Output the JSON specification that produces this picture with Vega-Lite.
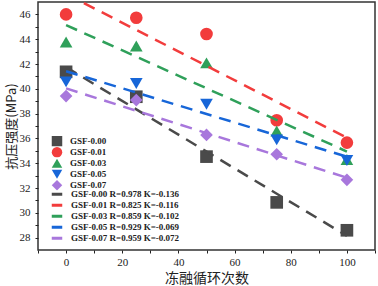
{
  "$schema": "https://vega.github.io/schema/vega-lite/v6.json",
  "autosize": "none",
  "padding": {"left": 38, "top": 2, "right": 3, "bottom": 36},
  "width": 337,
  "height": 248,
  "background": "white",
  "config": {
    "view": {"stroke": "#333333", "strokeWidth": 1.5},
    "legend": {
      "labelFont": "Liberation Serif",
      "labelFontSize": 9,
      "labelFontWeight": "bold",
      "labelColor": "#222222",
      "padding": 0,
      "rowPadding": 0,
      "clipHeight": 10.6,
      "labelOffset": 7
    }
  },
  "encoding": {
    "x": {
      "field": "x", "type": "quantitative",
      "scale": {"domain": [-10, 110], "nice": false, "zero": false},
      "axis": {
        "title": "冻融循环次数",
        "titleFont": "Noto Sans CJK SC",
        "titleFontWeight": "normal",
        "titleColor": "#222222",
        "titleFontSize": 14,
        "titlePadding": 4,
        "values": [-10, 0, 10, 20, 30, 40, 50, 60, 70, 80, 90, 100, 110],
        "labelExpr": "datum.value % 20 === 0 ? datum.label : ''",
        "labelFont": "Liberation Serif",
        "labelFontSize": 11,
        "labelColor": "#222222",
        "labelOverlap": false,
        "labelPadding": 3,
        "domain": false,
        "grid": false,
        "ticks": true,
        "tickColor": "#222222",
        "tickWidth": 1,
        "tickSize": 3
      }
    },
    "y": {
      "field": "y", "type": "quantitative",
      "scale": {"domain": [27, 47], "nice": false, "zero": false},
      "axis": {
        "title": "抗压强度(MPa)",
        "titleFont": "Noto Sans CJK SC",
        "titleFontWeight": "normal",
        "titleColor": "#222222",
        "titleFontSize": 13,
        "titlePadding": 1,
        "values": [28, 29, 30, 31, 32, 33, 34, 35, 36, 37, 38, 39, 40, 41, 42, 43, 44, 45, 46],
        "labelExpr": "datum.value % 2 === 0 ? datum.label : ''",
        "labelFont": "Liberation Serif",
        "labelFontSize": 11,
        "labelColor": "#222222",
        "labelOverlap": false,
        "labelPadding": 5,
        "domain": false,
        "grid": false,
        "ticks": true,
        "tickColor": "#222222",
        "tickWidth": 1,
        "tickSize": 3
      }
    }
  },
  "layer": [
    {
      "data": {"values": [
        {"series": "GSF-0.00", "x": 0, "y": 41.37},
        {"series": "GSF-0.00", "x": 25, "y": 39.36},
        {"series": "GSF-0.00", "x": 50, "y": 34.53},
        {"series": "GSF-0.00", "x": 75, "y": 30.84},
        {"series": "GSF-0.00", "x": 100, "y": 28.59},
        {"series": "GSF-0.01", "x": 0, "y": 46.0},
        {"series": "GSF-0.01", "x": 25, "y": 45.73},
        {"series": "GSF-0.01", "x": 50, "y": 44.42},
        {"series": "GSF-0.01", "x": 75, "y": 37.46},
        {"series": "GSF-0.01", "x": 100, "y": 35.66},
        {"series": "GSF-0.03", "x": 0, "y": 43.78},
        {"series": "GSF-0.03", "x": 25, "y": 43.45},
        {"series": "GSF-0.03", "x": 50, "y": 42.09},
        {"series": "GSF-0.03", "x": 75, "y": 36.6},
        {"series": "GSF-0.03", "x": 100, "y": 34.3},
        {"series": "GSF-0.05", "x": 0, "y": 40.56},
        {"series": "GSF-0.05", "x": 25, "y": 40.43},
        {"series": "GSF-0.05", "x": 50, "y": 38.75},
        {"series": "GSF-0.05", "x": 75, "y": 35.88},
        {"series": "GSF-0.05", "x": 100, "y": 34.21},
        {"series": "GSF-0.07", "x": 0, "y": 39.41},
        {"series": "GSF-0.07", "x": 25, "y": 39.09},
        {"series": "GSF-0.07", "x": 50, "y": 36.28},
        {"series": "GSF-0.07", "x": 75, "y": 34.72},
        {"series": "GSF-0.07", "x": 100, "y": 32.66}
      ]},
      "mark": {"type": "point", "filled": true, "size": 160, "opacity": 1},
      "encoding": {
        "fill": {
          "field": "series", "type": "nominal",
          "scale": {
            "domain": ["GSF-0.00", "GSF-0.01", "GSF-0.03", "GSF-0.05", "GSF-0.07"],
            "range": ["#4a4a4a", "#f23c3c", "#2fa05a", "#1766d8", "#a877dc"]
          },
          "legend": {"title": null, "orient": "none", "legendX": 13, "legendY": 134, "symbolSize": 110}
        },
        "shape": {
          "field": "series", "type": "nominal",
          "scale": {
            "domain": ["GSF-0.00", "GSF-0.01", "GSF-0.03", "GSF-0.05", "GSF-0.07"],
            "range": ["square", "circle", "triangle-up", "triangle-down", "diamond"]
          },
          "legend": {"title": null, "orient": "none", "legendX": 13, "legendY": 134, "symbolSize": 110}
        }
      }
    },
    {
      "data": {"values": [
        {"label": "GSF-0.00 R=0.978 K=-0.136", "x": 0, "y": 41.74},
        {"label": "GSF-0.00 R=0.978 K=-0.136", "x": 100, "y": 28.14},
        {"label": "GSF-0.01 R=0.825 K=-0.116", "x": 0, "y": 47.65},
        {"label": "GSF-0.01 R=0.825 K=-0.116", "x": 100, "y": 36.05},
        {"label": "GSF-0.03 R=0.859 K=-0.102", "x": 0, "y": 45.14},
        {"label": "GSF-0.03 R=0.859 K=-0.102", "x": 100, "y": 34.94},
        {"label": "GSF-0.05 R=0.929 K=-0.069", "x": 0, "y": 41.42},
        {"label": "GSF-0.05 R=0.929 K=-0.069", "x": 100, "y": 34.52},
        {"label": "GSF-0.07 R=0.959 K=-0.072", "x": 0, "y": 40.03},
        {"label": "GSF-0.07 R=0.959 K=-0.072", "x": 100, "y": 32.83}
      ]},
      "mark": {"type": "line", "strokeWidth": 2.5, "strokeDash": [12, 8], "clip": true},
      "encoding": {
        "stroke": {
          "field": "label", "type": "nominal",
          "scale": {
            "domain": ["GSF-0.00 R=0.978 K=-0.136", "GSF-0.01 R=0.825 K=-0.116", "GSF-0.03 R=0.859 K=-0.102", "GSF-0.05 R=0.929 K=-0.069", "GSF-0.07 R=0.959 K=-0.072"],
            "range": ["#4a4a4a", "#f23c3c", "#2fa05a", "#1766d8", "#a877dc"]
          },
          "legend": {"title": null, "orient": "none", "legendX": 12, "legendY": 187, "symbolType": "stroke", "symbolStrokeWidth": 3, "symbolSize": 110, "symbolDash": []}
        }
      }
    }
  ]
}
